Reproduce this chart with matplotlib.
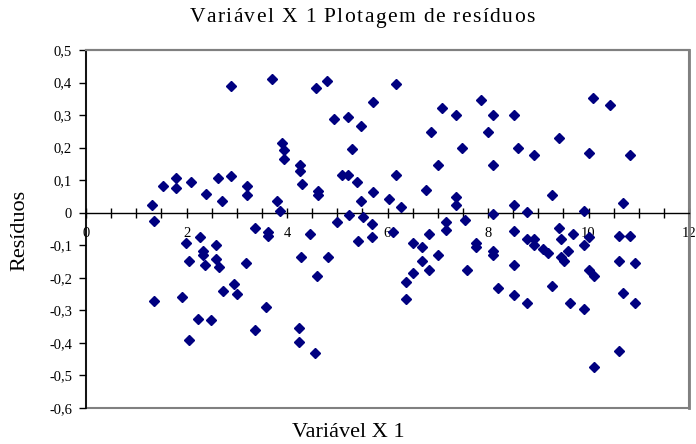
import matplotlib
matplotlib.use('Agg')
import matplotlib.pyplot as plt
from matplotlib.patches import Rectangle
from matplotlib.ticker import MultipleLocator, FuncFormatter

# Residuals (x = Variável X 1, y = resíduo)
x_pos = [1.31, 1.53, 1.80, 1.80, 2.08, 2.39, 2.62, 2.71, 2.89, 2.89,
         3.21, 3.21, 3.71, 3.80, 3.86, 3.90, 3.94, 3.94, 4.25, 4.25,
         4.30, 4.57, 4.62, 4.62, 4.80, 4.93, 5.22, 5.10, 5.22, 5.30,
         5.39, 5.47, 5.71, 5.71, 5.47, 6.02, 6.17, 6.17, 6.27, 6.77,
         6.86, 7.00, 7.09, 7.36, 7.49, 7.36, 7.36, 7.86, 8.00, 8.09,
         8.09, 8.51, 8.59, 8.51, 8.91, 9.27, 9.41, 10.01, 10.09, 10.42,
         9.92, 10.69, 10.83]
y_pos = [0.023, 0.083, 0.106, 0.076, 0.094, 0.059, 0.106, 0.036, 0.388, 0.112,
         0.083, 0.053, 0.411, 0.036, 0.006, 0.213, 0.193, 0.164, 0.148, 0.129,
         0.089, 0.382, 0.066, 0.053, 0.405, 0.288, 0.294, 0.117, 0.117, 0.195,
         0.094, 0.265, 0.341, 0.065, 0.036, 0.043, 0.394, 0.117, 0.018, 0.071,
         0.247, 0.148, 0.323, 0.300, 0.200, 0.048, 0.024, 0.347, 0.247, 0.300,
         0.148, 0.300, 0.200, 0.024, 0.176, 0.054, 0.230, 0.183, 0.353, 0.330,
         0.005, 0.030, 0.176]

x_neg = [1.35, 1.35, 1.91, 1.99, 2.05, 2.05, 2.27, 2.32, 2.32, 2.23,
         2.36, 2.59, 2.59, 2.64, 2.49, 2.72, 2.95, 3.00, 3.18, 3.37,
         3.37, 3.59, 3.63, 3.63, 4.23, 4.23, 4.28, 4.46, 4.55, 4.59,
         4.82, 5.00, 5.24, 5.51, 5.69, 5.42, 5.69, 6.10, 6.50, 6.36,
         6.36, 6.50, 6.69, 6.69, 6.82, 6.82, 7.00, 7.17, 7.17, 7.54,
         7.59, 7.77, 7.77, 8.09, 8.09, 8.09, 8.19, 8.51, 8.51, 8.51,
         8.77, 8.77, 8.91, 8.91, 8.77, 9.09, 9.19, 9.27, 9.41, 9.46,
         9.46, 9.51, 9.60, 9.69, 9.64, 10.01, 9.92, 9.92, 10.01, 10.10,
         10.10, 10.60, 10.60, 10.60, 10.69, 10.83, 10.92, 10.92]
y_neg = [-0.024, -0.272, -0.259, -0.094, -0.147, -0.390, -0.076, -0.118, -0.130, -0.325,
         -0.160, -0.100, -0.141, -0.167, -0.331, -0.242, -0.218, -0.249, -0.154, -0.046,
         -0.360, -0.289, -0.058, -0.072, -0.354, -0.396, -0.135, -0.065, -0.432, -0.195,
         -0.135, -0.029, -0.008, -0.012, -0.036, -0.087, -0.076, -0.058, -0.094, -0.212,
         -0.266, -0.184, -0.106, -0.148, -0.065, -0.176, -0.129, -0.029, -0.052, -0.023,
         -0.176, -0.094, -0.106, -0.005, -0.118, -0.130, -0.230, -0.057, -0.160, -0.253,
         0.001, -0.082, -0.082, -0.100, -0.277, -0.112, -0.124, -0.224, -0.046, -0.082,
         -0.135, -0.148, -0.118, -0.065, -0.277, -0.076, -0.100, -0.295, -0.176, -0.195,
         -0.474, -0.071, -0.148, -0.426, -0.247, -0.071, -0.154, -0.277]

x_vals = x_pos + x_neg
y_vals = y_pos + y_neg

title = "Variável X 1 Plotagem de resíduos"

plt.rcParams['font.family'] = ['Liberation Serif', 'DejaVu Serif']

fig = plt.figure(figsize=(6.96, 4.44), dpi=100)
ax = fig.add_axes([86 / 696, 1 - 408 / 444, (689 - 86) / 696, (408 - 50) / 444])

ax.plot(x_vals, y_vals, linestyle='none', marker='D', markersize=5.3,
        color='#000080', markeredgecolor='#000080', clip_on=False, zorder=3)

ax.set_xlim(0, 12)
ax.set_ylim(-0.6, 0.5)

# x axis crosses at y = 0, Excel style
ax.spines['bottom'].set_position(('data', 0))
ax.spines['bottom'].set_color('black')
ax.spines['left'].set_color('black')
ax.spines['top'].set_color('#808080')
ax.spines['right'].set_color('#808080')
ax.spines['top'].set_linewidth(1.5)
ax.spines['right'].set_linewidth(2)
ax.spines['bottom'].set_linewidth(1)
ax.spines['left'].set_linewidth(1.2)
ax.add_patch(Rectangle((0, 0), 1, 1, transform=ax.transAxes, fill=False,
                       edgecolor='#808080', linewidth=1.5, zorder=0, clip_on=False))

ax.xaxis.set_major_locator(MultipleLocator(2))
ax.xaxis.set_minor_locator(MultipleLocator(0.5))
ax.yaxis.set_major_locator(MultipleLocator(0.1))
ax.tick_params(axis='x', which='both', direction='inout', length=7, width=1,
               labelsize=10.5, pad=7)
ax.tick_params(axis='y', which='major', direction='out', length=5, width=1,
               labelsize=10.5, pad=5)

ax.xaxis.set_major_formatter(FuncFormatter(lambda v, p: f"{v:g}"))


def fmt_y(v, p):
    v = round(v, 1)
    if abs(v) < 1e-9:
        return "0"
    s = f"{abs(v):.1f}".replace('.', ',')
    return ("-" + s) if v < 0 else s


ax.yaxis.set_major_formatter(FuncFormatter(fmt_y))

# title drawn letter by letter to get the loose Excel tracking
renderer = fig.canvas.get_renderer()
track = 1.4  # extra px between letters
size = 15.5
widths = []
for ch in title:
    t = fig.text(0, 0, ch if ch != ' ' else 'n', fontsize=size)
    w = t.get_window_extent(renderer).width
    if ch == ' ':
        w *= 0.5
    widths.append(w)
    t.remove()
total = sum(widths) + track * (len(title) - 1)
x0 = 362 - total / 2
for ch, w in zip(title, widths):
    if ch != ' ':
        fig.text(x0 / 696, 1 - 18 / 444, ch, ha='left', va='center', fontsize=size)
    x0 += w + track

fig.text(348 / 696, 1 - 432 / 444, "Variável X 1", ha='center', va='center',
         fontsize=16)
fig.text(20 / 696, 1 - 230 / 444, "Resíduos", ha='center', va='center',
         rotation=90, fontsize=16)

fig.savefig("out.png", dpi=100, facecolor='white')
